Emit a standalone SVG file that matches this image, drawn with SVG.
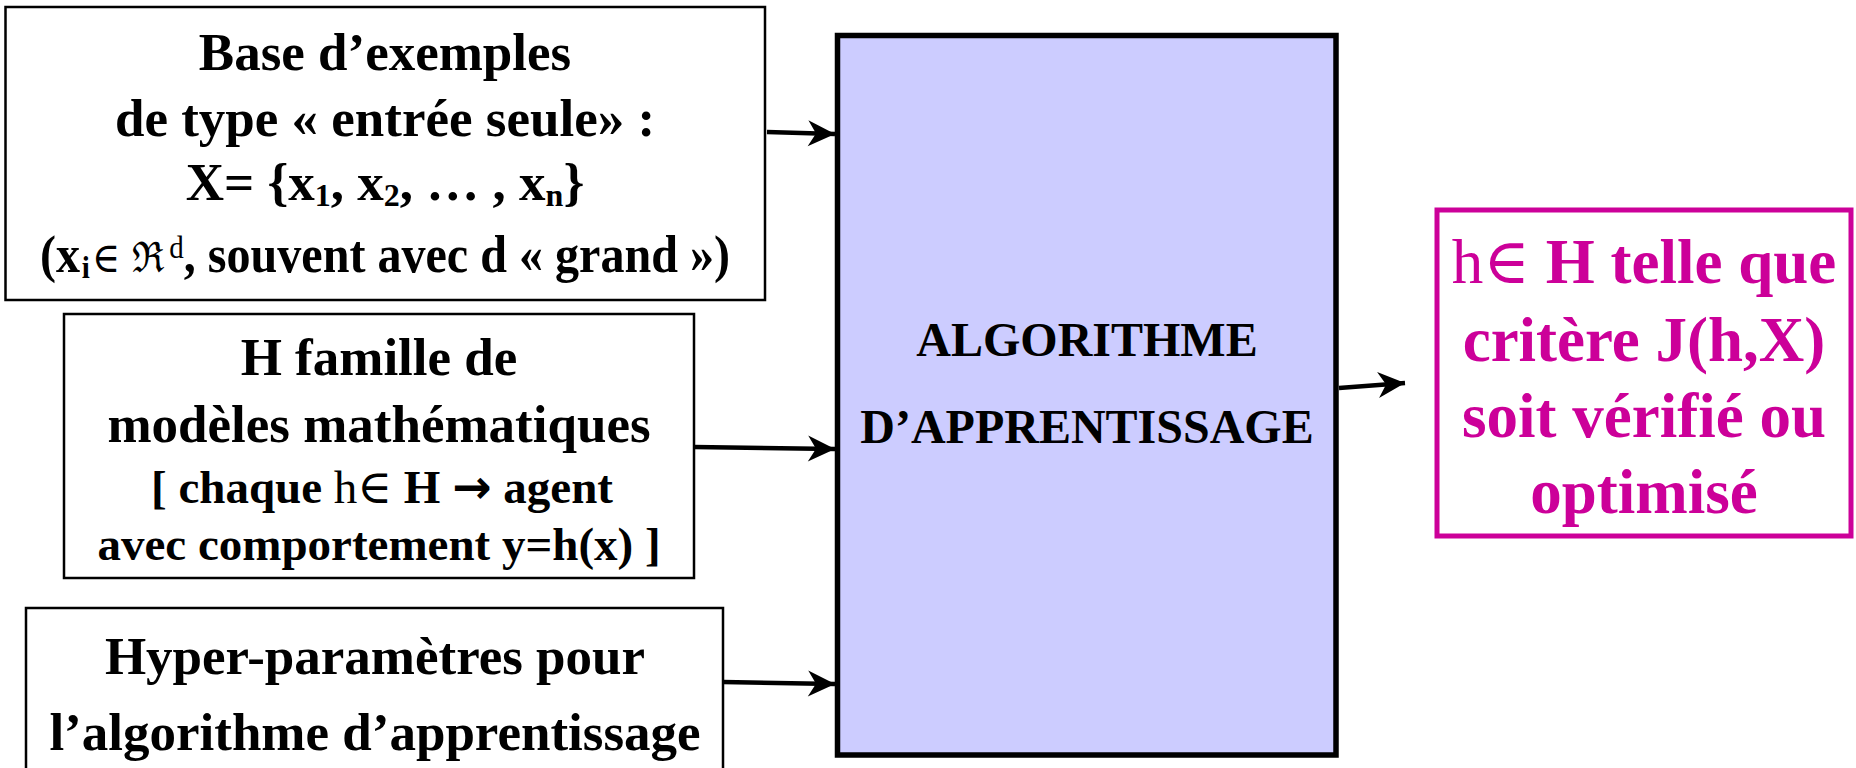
<svg xmlns="http://www.w3.org/2000/svg" width="1856" height="768" viewBox="0 0 1856 768">
  <style>
    .box { fill: #ffffff; stroke: #000000; stroke-width: 2.5; }
    .main { fill: #CCCCFF; stroke: #000000; stroke-width: 5.5; }
    .out { fill: #ffffff; stroke: #CC0099; stroke-width: 5; }
    .t { font-family: "Liberation Serif", "Times New Roman", "DejaVu Serif", serif; font-weight: bold; text-anchor: middle; fill: #000000; }
    .t53 { font-size: 53px; }
    .t47 { font-size: 47px; }
    .t48 { font-size: 48px; }
    .mag { font-size: 63px; fill: #CC0099; }
    .reg { font-weight: normal; }
    .sub { font-size: 32px; }
    .sym { font-family: "DejaVu Serif", serif; font-weight: normal; font-size: 42px; }
    .arr { font-family: "DejaVu Sans", sans-serif; font-weight: bold; }
    .link { stroke: #000000; stroke-width: 4.5; fill: none; marker-end: url(#head); }
  </style>
  <defs>
    <marker id="head" markerUnits="userSpaceOnUse" markerWidth="32" markerHeight="32" viewBox="-30 -16 32 32" refX="0" refY="0" orient="auto">
      <path d="M0,0 L-27,-13 L-19,0 L-27,13 Z" fill="#000000"/>
    </marker>
  </defs>

  <rect width="1856" height="768" fill="#ffffff"/>

  <!-- connectors -->
  <g id="connectors">
    <line class="link" x1="767" y1="132" x2="835" y2="134"/>
    <line class="link" x1="694" y1="447" x2="835" y2="449"/>
    <line class="link" x1="723" y1="682" x2="835" y2="684"/>
    <line class="link" x1="1339" y1="388" x2="1405" y2="383"/>
  </g>

  <!-- example base -->
  <g id="examples">
    <rect class="box" x="5.5" y="7" width="759.5" height="293"/>
    <text class="t t53" x="385" y="70">Base d’exemples</text>
    <text class="t t53" x="385" y="136">de type « entrée seule» :</text>
    <text class="t t53" x="385" y="200">X= {x<tspan class="sub" dy="6">1</tspan><tspan dy="-6">, x</tspan><tspan class="sub" dy="6">2</tspan><tspan dy="-6">, … , x</tspan><tspan class="sub" dy="6">n</tspan><tspan dy="-6">}</tspan></text>
    <text class="t t53" x="385" y="272" textLength="690" lengthAdjust="spacingAndGlyphs">(x<tspan class="sub" dx="2" dy="6">i</tspan><tspan class="sym" dx="2" dy="-6">∈ ℜ</tspan><tspan class="sub reg" dx="5" dy="-14">d</tspan><tspan dy="14">, souvent avec d « grand »)</tspan></text>
  </g>

  <!-- model family -->
  <g id="models">
    <rect class="box" x="64" y="314" width="630" height="264"/>
    <text class="t t53" x="379" y="375">H famille de</text>
    <text class="t t53" x="379" y="442">modèles mathématiques</text>
    <text class="t t47" x="382" y="503">[ chaque <tspan class="reg">h∈</tspan> H <tspan class="arr">→</tspan> agent</text>
    <text class="t t47" x="379" y="560">avec comportement y=h(x) ]</text>
  </g>

  <!-- hyper-parameters -->
  <g id="hyperparams">
    <rect class="box" x="26" y="608" width="697" height="175"/>
    <text class="t t53" x="375" y="674">Hyper-paramètres pour</text>
    <text class="t t53" x="375" y="750">l’algorithme d’apprentissage</text>
  </g>

  <!-- learning algorithm -->
  <g id="algorithm">
    <rect class="main" x="837.5" y="35.5" width="498.5" height="719.5"/>
    <text class="t t48" x="1087" y="356">ALGORITHME</text>
    <text class="t t48" x="1087" y="443">D’APPRENTISSAGE</text>
  </g>

  <!-- result -->
  <g id="result">
    <rect class="out" x="1437" y="210" width="414" height="326"/>
    <text class="t mag" x="1644" y="283"><tspan class="reg">h∈</tspan> H telle que</text>
    <text class="t mag" x="1644" y="361">critère J(h,X)</text>
    <text class="t mag" x="1644" y="437">soit vérifié ou</text>
    <text class="t mag" x="1644" y="513">optimisé</text>
  </g>
</svg>
